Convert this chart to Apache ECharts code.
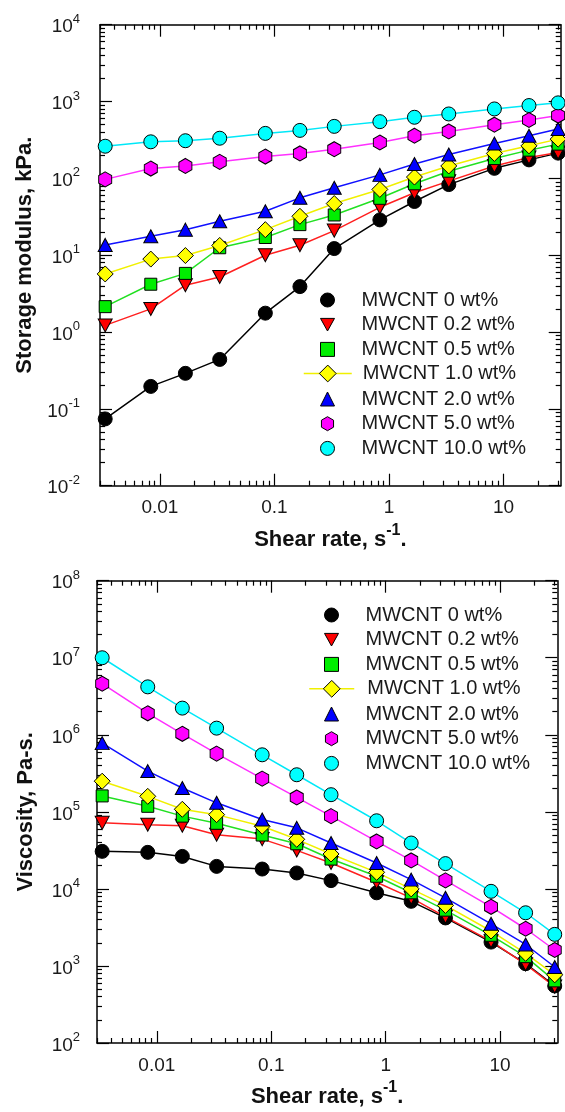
<!DOCTYPE html>
<html>
<head>
<meta charset="utf-8">
<script src="https://cdn.jsdelivr.net/npm/echarts@6/dist/echarts.min.js"></script>
<style>
html, body { margin: 0; padding: 0; background: #fff; }
#main { width: 565px; height: 1112px; }
</style>
</head>
<body>
<div id="main"></div>
<script>
// shear rate, s-1
var shearRate = [0.00333, 0.00833, 0.0167, 0.0333, 0.0833, 0.167, 0.333, 0.833, 1.67, 3.33, 8.33, 16.7, 30];
var seriesNames = ['MWCNT 0 wt%', 'MWCNT 0.2 wt%', 'MWCNT 0.5 wt%', 'MWCNT 1.0 wt%', 'MWCNT 2.0 wt%', 'MWCNT 5.0 wt%', 'MWCNT 10.0 wt%'];

// storage modulus, kPa
var storage0   = [0.074, 0.196, 0.29, 0.44, 1.76, 3.9, 12.2, 28.8, 50, 83, 135, 174, 213];
var storage02  = [1.22, 2.0, 4.07, 5.2, 10, 13.5, 20.9, 42, 65, 92, 145, 187, 217];
var storage05  = [2.14, 4.19, 5.8, 12.5, 17, 25, 33.4, 55, 85, 124, 181, 233, 279];
var storage10  = [5.7, 8.9, 9.9, 13.4, 21.5, 32.1, 47, 71.8, 104, 145, 211, 265, 324];
var storage20  = [13.6, 17.6, 21.5, 27.6, 37.3, 55.8, 75.5, 111, 154, 204, 284, 359, 438];
var storage50  = [97, 134, 145, 164, 192, 211, 240, 293, 359, 408, 500, 575, 656];
var storage100 = [262, 299, 309, 333, 385, 421, 475, 547, 624, 689, 801, 887, 961];

// viscosity, Pa-s
var visc0   = [3.07e4, 2.98e4, 2.64e4, 1.96e4, 1.81e4, 1.61e4, 1.28e4, 8.9e3, 6.9e3, 4.2e3, 2.04e3, 1.07e3, 550];
var visc02  = [7.2e4, 6.8e4, 6.6e4, 5.05e4, 4.43e4, 3.16e4, 2.17e4, 1.22e4, 7.66e3, 4.34e3, 2.1e3, 1.05e3, 540];
var visc05  = [1.61e5, 1.18e5, 8.8e4, 7.1e4, 5.0e4, 3.85e4, 2.44e4, 1.46e4, 8.9e3, 5.3e3, 2.5e3, 1.32e3, 640];
var visc10  = [2.5e5, 1.59e5, 1.08e5, 9.2e4, 6.5e4, 4.4e4, 2.84e4, 1.64e4, 1.0e4, 6.1e3, 2.84e3, 1.46e3, 766];
var visc20  = [7.8e5, 3.38e5, 2.04e5, 1.31e5, 7.95e4, 6.2e4, 3.94e4, 2.17e4, 1.32e4, 7.66e3, 3.52e3, 1.9e3, 970];
var visc50  = [4.6e6, 1.9e6, 1.03e6, 5.7e5, 2.7e5, 1.54e5, 8.8e4, 4.13e4, 2.34e4, 1.29e4, 5.85e3, 3.04e3, 1.61e3];
var visc100 = [1.0e7, 4.19e6, 2.22e6, 1.22e6, 5.5e5, 3.03e5, 1.67e5, 7.66e4, 3.94e4, 2.13e4, 9.3e3, 4.9e3, 2.57e3];

// tick labels
var xMajor = [0.01, 0.1, 1, 10];
var yMajorTop = [0.01, 0.1, 1, 10, 100, 1000, 10000];
var yMajorBottom = [100, 1000, 1e4, 1e5, 1e6, 1e7, 1e8];

var font = 'Liberation Sans, Arial, sans-serif';
var colors = ['#000000', '#ff0000', '#00ee00', '#ffff00', '#0000ff', '#ff00ff', '#00ffff'];
var lineColors = ['#000000', '#ff2020', '#22e022', '#f0f000', '#1010ff', '#ff30ff', '#00e8f8'];
var downTri = 'path://M-1,-0.9 L1,-0.9 L0,0.9 Z';
var hexagon = 'path://M0,-1 L0.866,-0.5 L0.866,0.5 L0,1 L-0.866,0.5 L-0.866,-0.5 Z';
var symbols = ['circle', downTri, 'rect', 'diamond', 'triangle', hexagon, 'circle'];
var symbolSizes = [14, [14, 13], 12, 16, [14, 13], [13, 15], 14];

function minorList(lo, hi) {
  var out = [];
  for (var e = lo; e <= hi; e++) {
    for (var m = 2; m <= 9; m++) out.push(+(m * Math.pow(10, e)).toPrecision(3));
  }
  return out;
}

var xMinor = minorList(-3, 1).filter(function (v) { return v > 0.0029 && v < 31.7; });
var yMinorTop = minorList(-2, 3);
var yMinorBottom = minorList(2, 7);

function powLabel(v) {
  var e = Math.round(Math.log10(v));
  return '{b|10}{s|' + e + '}';
}

var powRich = {
  b: { fontSize: 19, fontFamily: font, color: '#1a1a1a', lineHeight: 24, verticalAlign: 'bottom' },
  s: { fontSize: 13, fontFamily: font, color: '#1a1a1a', lineHeight: 14, verticalAlign: 'top' }
};

function axisSet(isX, grid, min, max, majors, minors, labelMargin, nameCfg) {
  var list = [];
  var positions = isX ? ['bottom', 'top'] : ['left', 'right'];
  positions.forEach(function (pos, pi) {
    [true, false].forEach(function (major) {
      var ax = {
        type: 'log', logBase: 10, gridIndex: grid, position: pos, min: min, max: max,
        axisLine: { show: major, onZero: false, lineStyle: { color: '#000', width: 1.5 } },
        axisTick: { show: true, inside: true, length: major ? 12 : 5, customValues: major ? majors : minors,
          lineStyle: { color: '#000', width: 1.2 } },
        axisLabel: { show: false },
        splitLine: { show: false },
        minorTick: { show: false }
      };
      if (major && pi === 0) {
        ax.axisLabel = isX
          ? { show: true, customValues: majors, margin: labelMargin, fontSize: 19, fontFamily: font, color: '#1a1a1a',
              formatter: function (v) { return String(v); } }
          : { show: true, customValues: majors, margin: labelMargin, formatter: powLabel, rich: powRich };
        for (var k in nameCfg) ax[k] = nameCfg[k];
      }
      list.push(ax);
    });
  });
  return list;
}

var xName = {
  name: '{t|Shear rate, s}{s|-1}{t|.}', nameLocation: 'middle', nameGap: 37,
  nameTextStyle: { rich: {
    t: { fontSize: 22, fontWeight: 'bold', fontFamily: font, color: '#111', lineHeight: 28, verticalAlign: 'bottom' },
    s: { fontSize: 16, fontWeight: 'bold', fontFamily: font, color: '#111', lineHeight: 16, verticalAlign: 'top' }
  } }
};

function yName(text, gap) {
  return { name: text, nameLocation: 'middle', nameGap: gap,
    nameTextStyle: { fontSize: 22, fontWeight: 'bold', fontFamily: font, color: '#111' } };
}

var xAxes = axisSet(true, 0, 0.003, 31.6, xMajor, xMinor, 13, xName)
  .concat(axisSet(true, 1, 0.003, 31.6, xMajor, xMinor, 13, xName));
var yAxes = axisSet(false, 0, 0.0099999, 10000.01, yMajorTop, yMinorTop, 20, yName('Storage modulus, kPa.', 63))
  .concat(axisSet(false, 1, 99.9999, 1.0000001e8, yMajorBottom, yMinorBottom, 17, yName('Viscosity, Pa-s.', 60)));

function makeSeries(values, i, xIdx, yIdx) {
  return {
    name: seriesNames[i], type: 'line', xAxisIndex: xIdx, yAxisIndex: yIdx,
    data: shearRate.map(function (x, j) { return [x, values[j]]; }),
    symbol: symbols[i], symbolSize: symbolSizes[i], showAllSymbol: true, clip: false,
    lineStyle: { color: lineColors[i], width: 1.5 },
    itemStyle: { color: colors[i], borderColor: '#000', borderWidth: 1, opacity: 1 },
    emphasis: { disabled: true }
  };
}

var storageSets = [storage0, storage02, storage05, storage10, storage20, storage50, storage100];
var viscSets = [visc0, visc02, visc05, visc10, visc20, visc50, visc100];
var series = [];
storageSets.forEach(function (v, i) { series.push(makeSeries(v, i, 0, 0)); });
viscSets.forEach(function (v, i) { series.push(makeSeries(v, i, 4, 4)); });

function legendBlock(idx, left, top, itemWidth, itemHeight, padLeft) {
  return {
    orient: 'vertical', left: left, top: top, itemWidth: itemWidth, itemHeight: itemHeight, itemGap: 4.7,
    selectedMode: false, padding: 0,
    data: idx.map(function (i) {
      var d = { name: seriesNames[i] };
      if (i !== 3) d.icon = symbols[i];
      return d;
    }),
    itemStyle: { borderColor: '#000', borderWidth: 1 },
    lineStyle: { width: 1.5 },
    textStyle: { fontSize: 20, lineHeight: 20, fontFamily: font, color: '#1a1a1a', padding: [0, 0, 0, padLeft] }
  };
}

var myChart = echarts.init(document.getElementById('main'));
var option = {
  backgroundColor: '#fff',
  animation: false,
  grid: [
    { left: 100, top: 24.7, width: 460.7, height: 461, outerBoundsMode: 'none' },
    { left: 97, top: 580.7, width: 460.3, height: 462.3, outerBoundsMode: 'none' }
  ],
  legend: [
    legendBlock([0, 1, 2], 320, 290, 14, 14, 22),
    legendBlock([3], 303, 363.5, 48, 21, 6),
    legendBlock([4, 5, 6], 320, 389, 14, 14, 22),
    legendBlock([0, 1, 2], 324, 605, 14, 14, 22),
    legendBlock([3], 308.5, 678.8, 45, 21, 8),
    legendBlock([4, 5, 6], 324, 704, 14, 14, 22)
  ],
  xAxis: xAxes,
  yAxis: yAxes,
  series: series
};
myChart.setOption(option);
</script>
</body>
</html>
